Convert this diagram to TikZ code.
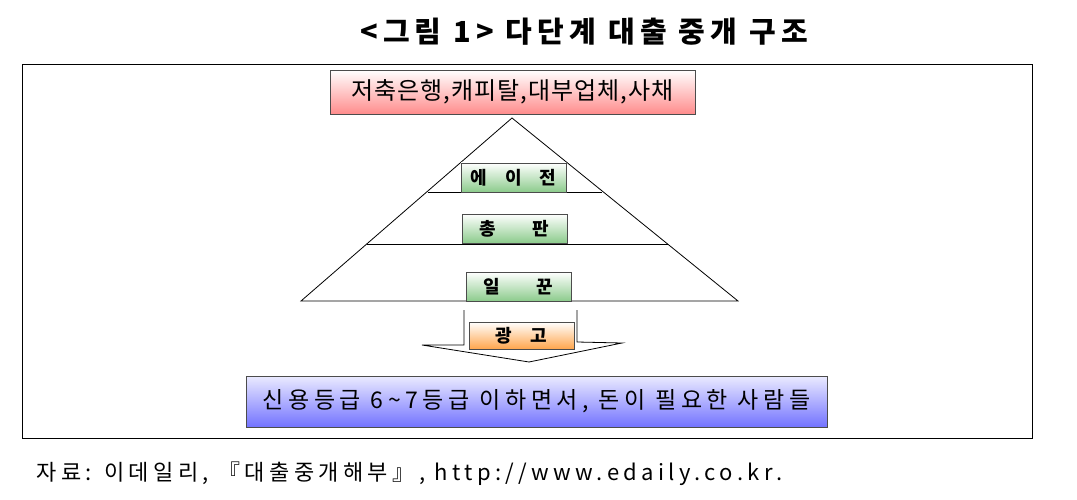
\documentclass[tikz,border=0pt]{standalone}
\usepackage{fontspec}
\setmainfont{Noto Sans CJK KR}
\newcommand{\wide}[1]{\addfontfeature{LetterSpace=#1}}
\begin{document}
\begin{tikzpicture}[x=1pt,y=-1pt,
  lbl/.style={draw=black!70,line width=0.8pt,minimum height=29pt,minimum width=105pt,inner sep=0pt,font=\fontsize{18}{18}\selectfont\bfseries},
  green/.style={lbl,top color=white,bottom color=green!55!black!45},
  ln/.style={line width=0.8pt}]
\useasboundingbox (0,0) rectangle (1077,500);
\node[font=\fontsize{29}{29}\selectfont\bfseries\wide{18}] (title) at (584,32) {<그림 1> 다단계 대출 중개 구조};
\draw[ln] (22,64) rectangle (1032,438);
\node[draw=black!70,line width=0.8pt,top color=white,bottom color=red!45,minimum width=365pt,minimum height=44pt,font=\fontsize{24}{24}\selectfont\wide{4}] (top) at (512.5,92) {저축은행,캐피탈,대부업체,사채};
\coordinate (apex) at (512,118);
\coordinate (bl) at (301,301);
\coordinate (br) at (738,301);
\draw[ln] (apex) -- (bl) -- (br) -- cycle;
\coordinate (l1a) at (428,192); \coordinate (l1b) at (602,192);
\coordinate (l2a) at (367,244); \coordinate (l2b) at (668,244);
\draw[ln] (l1a) -- (l1b);
\draw[ln] (l2a) -- (l2b);
\node[green] (a) at (513.5,177.5) {에\quad 이\quad 전};
\node[green] (b) at (514.5,228.5) {총\qquad 판};
\node[green] (c) at (518.5,286.5) {일\qquad 꾼};
\coordinate (s1) at (464,310); \coordinate (s2) at (464,345); \coordinate (h1) at (422,345);
\coordinate (tip) at (529,362); \coordinate (h2) at (622,343); \coordinate (s3) at (577,342); \coordinate (s4) at (577,310);
\draw[ln] (s1) -- (s2) -- (h1) -- (tip) -- (h2) -- (s3) -- (s4);
\node[lbl,minimum height=27pt,top color=white,bottom color=orange!70] (ad) at (521.5,335.5) {광\quad 고};
\node[draw=black!70,line width=0.8pt,top color=blue!8,bottom color=blue!55,minimum width=581pt,minimum height=51pt,font=\fontsize{23}{23}\selectfont\wide{20}] (bot) at (536.5,401.5) {신용등급 6\textasciitilde7등급 이하면서, 돈이 필요한 사람들};
\node[anchor=west,font=\fontsize{22}{22}\selectfont\wide{20}] (src) at (33,474) {자료: 이데일리, 『대출중개해부』, http://www.edaily.co.kr.};
\end{tikzpicture}
\end{document}
